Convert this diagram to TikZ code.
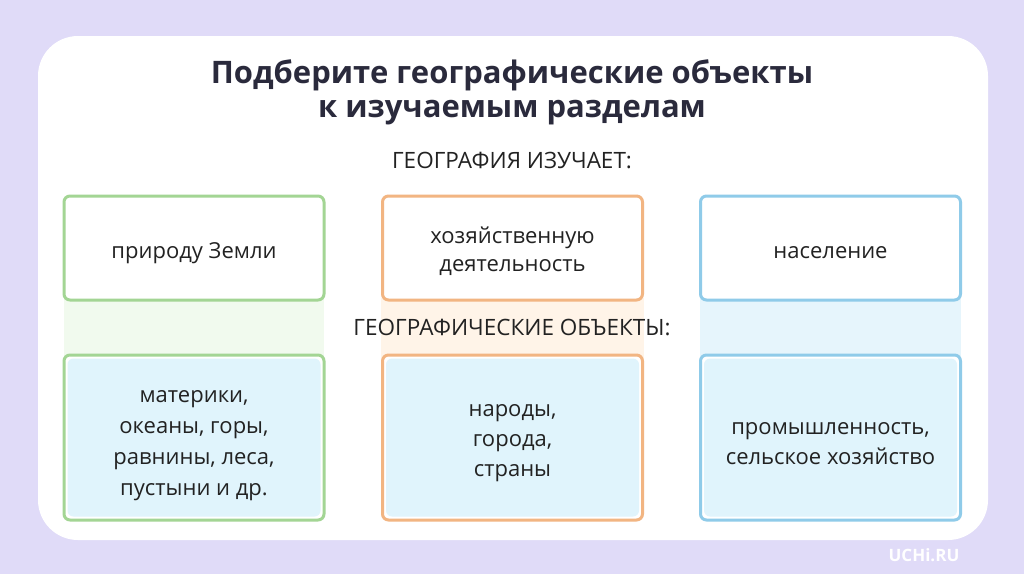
\documentclass[tikz,border=0pt]{standalone}
\usepackage{fontspec}
\setmainfont{Open Sans}
\definecolor{lav}{HTML}{E0DBF8}
\definecolor{titlec}{HTML}{2A2A3C}
\definecolor{txt}{HTML}{222222}
\definecolor{gborder}{HTML}{A3D594}
\definecolor{oborder}{HTML}{F2B582}
\definecolor{bborder}{HTML}{8FCBE9}
\definecolor{gbg}{HTML}{F1FAEE}
\definecolor{obg}{HTML}{FFF4E8}
\definecolor{bbg}{HTML}{E6F5FC}
\definecolor{cellblue}{HTML}{E0F4FC}
\tikzset{
  topbox/.style={draw=#1, line width=3pt, rounded corners=6pt, fill=white,
    minimum width=260pt, minimum height=104pt, inner sep=0pt},
  botbox/.style={draw=#1, line width=3pt, rounded corners=6pt, fill=white,
    minimum width=260pt, minimum height=165pt, inner sep=0pt,
    path picture={\fill[cellblue] ([shift={(3.5pt,3.5pt)}]path picture bounding box.south west) rectangle ([shift={(-3.5pt,-3.5pt)}]path picture bounding box.north east);}},
  bodytext/.style={align=center, text=txt, inner sep=0pt, font=\fontsize{22}{#1}\selectfont},
  heading/.style={text=txt, font=\fontsize{22.5}{24}\selectfont},
}
\begin{document}
\begin{tikzpicture}[x=1pt,y=-1pt]
\useasboundingbox (0,0) rectangle (1024,574);
\fill[lav] (0,0) rectangle (1024,574);
\fill[white, rounded corners=40pt] (38,36) rectangle (988,540);
% column backgrounds
\fill[gbg] (64,298) rectangle (324,358);
\fill[obg] (381,298) rectangle (644,358);
\fill[bbg] (700,298) rectangle (961,358);
% title
\node[text=titlec, font=\fontsize{31}{34}\selectfont\bfseries, align=center] (title) at (512,92)
  {Подберите географические объекты\\к изучаемым разделам};
\node[heading] (studies) at (512,160) {ГЕОГРАФИЯ ИЗУЧАЕТ:};
\node[heading] (objects) at (512,327) {ГЕОГРАФИЧЕСКИЕ ОБЪЕКТЫ:};
% top boxes
\node[topbox=gborder] (nature) at (194,248) {};
\node[topbox=oborder] (economy) at (512.5,248) {};
\node[topbox=bborder] (population) at (830.5,248) {};
\node[bodytext=28.5] (natureT) at ([yshift=-5pt]nature.center) {природу Земли};
\node[bodytext=28.5] (economyT) at ([yshift=-3pt]economy.center) {хозяйственную\\деятельность};
\node[bodytext=28.5] (populationT) at ([yshift=-5pt]population.center) {население};
% bottom boxes
\node[botbox=gborder] (natobj) at (194,437.5) {};
\node[botbox=oborder] (popobj) at (512.5,437.5) {};
\node[botbox=bborder] (ecoobj) at (830.5,437.5) {};
\node[bodytext=31] (natobjT) at ([yshift=-8pt]natobj.center) {материки,\\океаны, горы,\\равнины, леса,\\пустыни и др.};
\node[bodytext=30] (popobjT) at ([yshift=-6pt]popobj.center) {народы,\\города,\\страны};
\node[bodytext=30] (ecoobjT) at ([yshift=-6pt]ecoobj.center) {промышленность,\\сельское хозяйство};
% watermark
\node[text=white, font=\fontsize{17}{18}\selectfont\bfseries] (mark) at (924,555) {UCHi.RU};
\end{tikzpicture}
\end{document}
